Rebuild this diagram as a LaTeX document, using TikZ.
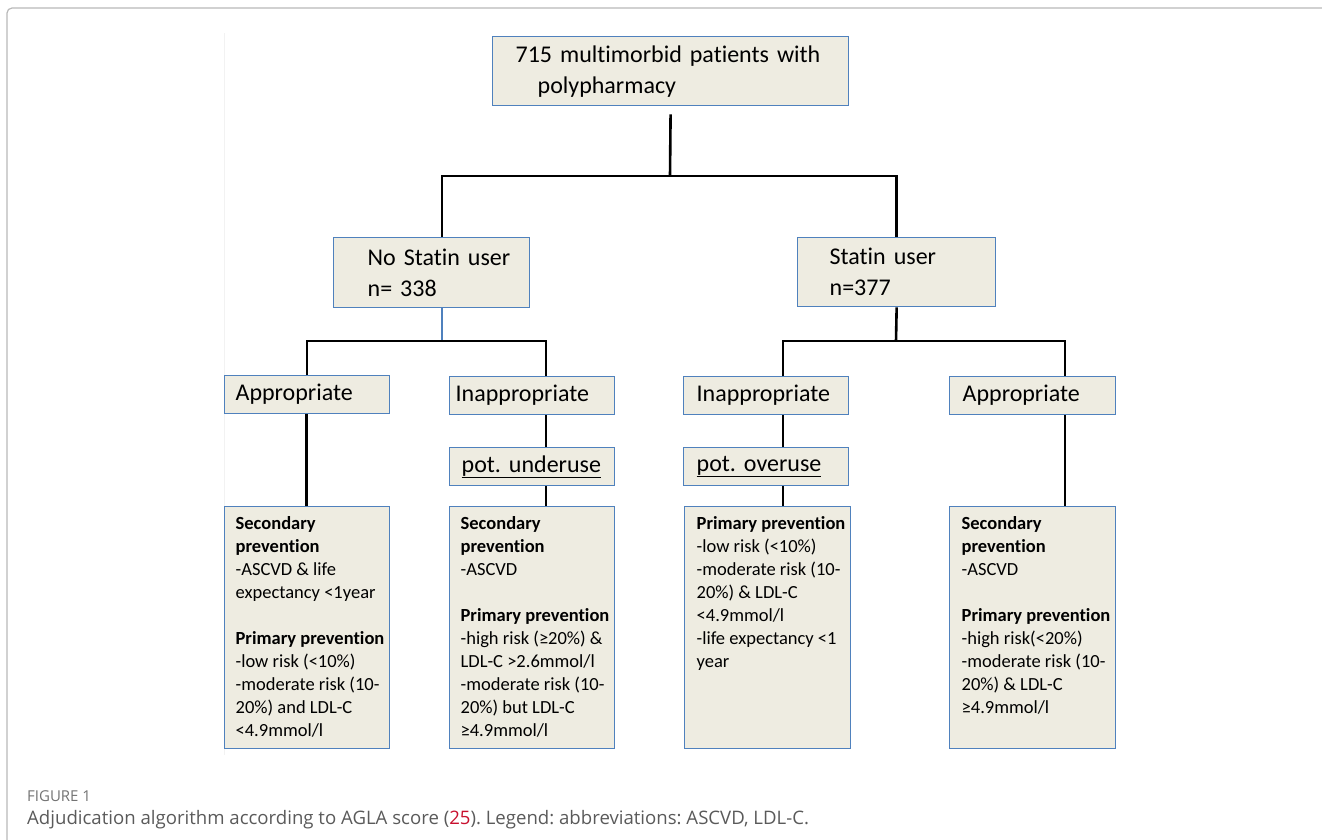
\documentclass[tikz,border=0pt]{standalone}
\usepackage{fontspec}
\setmainfont{Carlito}[Ligatures=NoCommon]
\newfontfamily\capfont{Open Sans}
\usepackage{tikz}
\definecolor{boxfill}{HTML}{EEECE1}
\definecolor{boxline}{HTML}{4F81BD}
\definecolor{capgray}{HTML}{5A5A5A}
\definecolor{capred}{HTML}{C8102E}
\newcommand{\prevlines}[2]{\parbox[t][228pt][t]{#1}{\begin{tabular}[t]{@{}l@{}}#2\end{tabular}}}
\frenchspacing

\begin{document}
\begin{tikzpicture}[yscale=-1,x=1pt,y=1pt,
    box/.style={draw=boxline,line width=1.3pt,fill=boxfill,anchor=north west,
      inner ysep=0pt,align=left,font=\fontsize{24}{31}\selectfont},
    prevbox/.style={box,inner ysep=7pt,font=\fontsize{18.5}{23}\selectfont},
    conn/.style={line width=2.6pt,black},
    bluestem/.style={line width=2.6pt,boxline}]
      \useasboundingbox (0,0) rectangle (1322,839);
      \draw[gray!55,line width=1.2pt,rounded corners=5pt] (1340,8) -- (7,8) -- (7,860);
      \draw[gray!10,line width=1pt] (224,33) -- (224,755);

      \node[box,inner xsep=23pt,text width=310pt,minimum height=69pt] (top) at (492,36)
        {\rule{0pt}{4pt}715 multimorbid patients with\\\hspace*{22pt}polypharmacy};
      \node[box,inner xsep=34pt,text width=128pt,minimum height=70pt] (nostat) at (333,237)
        {No~Statin~user\\n= 338};
      \node[box,inner xsep=32pt,text width=134pt,minimum height=69pt] (stat) at (797,237)
        {Statin user\\n=377};

      \node[box,inner xsep=11pt,text width=143pt,minimum height=38pt] (appL) at (224,375) {Appropriate};
      \node[box,inner xsep=6pt,text width=153pt,minimum height=38pt] (inapL) at (449,376) {Inappropriate};
      \node[box,inner xsep=13pt,text width=139pt,minimum height=38pt] (inapR) at (683,376) {Inappropriate};
      \node[box,inner xsep=13pt,text width=140pt,minimum height=38pt] (appR) at (949,376) {Appropriate};
      \node[box,inner xsep=12pt,text width=141pt,minimum height=38pt] (potU) at (449,447) {\underline{pot. underuse}};
      \node[box,inner xsep=13pt,text width=139pt,minimum height=38pt] (potO) at (683,447) {\underline{pot. overuse}};

      \node[prevbox,inner xsep=11pt] (prevA) at (224,506) {\prevlines{143pt}{%
        \textbf{Secondary}\\ \textbf{prevention}\\ -ASCVD \& life\\ expectancy <1year\\ \\
        \textbf{Primary prevention}\\ -low risk (<10\%)\\ -moderate risk (10-\\ 20\%) and LDL-C\\ <4.9mmol/l}};
      \node[prevbox,inner xsep=11pt] (prevB) at (449,506) {\prevlines{143pt}{%
        \textbf{Secondary}\\ \textbf{prevention}\\ -ASCVD\\ \\
        \textbf{Primary prevention}\\ -high risk (≥20\%) \&\\ LDL-C >2.6mmol/l\\ -moderate risk (10-\\ 20\%) but LDL-C\\ ≥4.9mmol/l}};
      \node[prevbox,inner xsep=12pt] (prevC) at (684,506) {\prevlines{142pt}{%
        \textbf{Primary prevention}\\ -low risk (<10\%)\\ -moderate risk (10-\\ 20\%) \& LDL-C\\ <4.9mmol/l\\
        -life expectancy <1\\ year}};
      \node[prevbox,inner xsep=12pt] (prevD) at (949,506) {\prevlines{142pt}{%
        \textbf{Secondary}\\ \textbf{prevention}\\ -ASCVD\\ \\
        \textbf{Primary prevention}\\ -high risk(<20\%)\\ -moderate risk (10-\\ 20\%) \& LDL-C\\ ≥4.9mmol/l}};

      \coordinate (bar0) at (670,176);
      \coordinate (bar1) at (442,341);
      \coordinate (bar2) at (896,341);
      \coordinate (colA) at (306.5,0);
      \coordinate (colB) at (546,0);
      \coordinate (colC) at (783,0);
      \coordinate (colD) at (1065,0);

      \draw[conn,shorten <=8pt] (top.south) -- (bar0);
      \draw[conn] (nostat.north -| bar1) |- (bar0) -| (stat.north);
      \draw[bluestem] (nostat.south -| bar1) -- (bar1);
      \draw[conn] (appL.north) |- (bar1) -| (inapL.north -| colB);
      \draw[conn] (stat.south) -- (bar2);
      \draw[conn] (inapR.north -| colC) |- (bar2) -| (appR.north -| colD);
      \foreach \a/\b/\c in {appL/prevA/colA,inapL/potU/colB,potU/prevB/colB,
          inapR/potO/colC,potO/prevC/colC,appR/prevD/colD} {
        \draw[conn] (\a.south -| \c) -- (\b.north -| \c);
      }

      \node[anchor=west,inner sep=0pt,text=capgray!85,font=\capfont\fontsize{15}{17}\selectfont]
        (figlabel) at (27,796) {FIGURE 1};
      \node[anchor=west,inner sep=0pt,text=capgray,font=\capfont\fontsize{18.6}{22}\selectfont]
        (caption) at (27,820) {Adjudication algorithm according to AGLA score (\textcolor{capred}{25}). Legend: abbreviations: ASCVD, LDL-C.};
    \end{tikzpicture}
\end{document}
